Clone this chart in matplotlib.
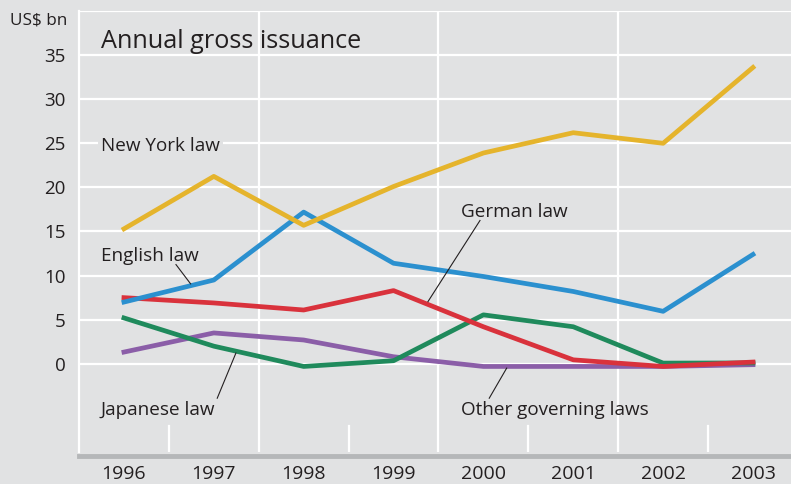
import matplotlib.pyplot as plt

plt.rcParams['font.family'] = ['Open Sans', 'DejaVu Sans']

years = [1996, 1997, 1998, 1999, 2000, 2001, 2002, 2003]
new_york = [15.3, 21.25, 15.7, 20.1, 23.9, 26.2, 25.0, 33.6]
english = [7.0, 9.5, 17.2, 11.4, 9.9, 8.2, 5.95, 12.4]
german = [7.5, 6.9, 6.1, 8.3, 4.2, 0.45, -0.3, 0.2]
japanese = [5.2, 2.0, -0.3, 0.35, 5.55, 4.2, 0.08, 0.1]
other = [1.33, 3.5, 2.7, 0.8, -0.3, -0.3, -0.3, -0.1]
y_ticks = [0, 5, 10, 15, 20, 25, 30, 35]

bg = '#e1e2e3'
ink = '#231f20'

fig = plt.figure(figsize=(7.91, 4.84), dpi=100, facecolor=bg)
ax = fig.add_axes([0.0999, 0.0661, 0.9001, 0.9112], facecolor=bg)

ax.set_xlim(1995.5, 2003.423)
ax.set_ylim(-10, 40)

# white grid: horizontal rules plus the top rule at 40
for v in y_ticks + [40]:
    ax.axhline(v, color='white', lw=1.6, zorder=1)
for x in [1997.5, 1999.5, 2001.5]:
    ax.axvline(x, color='white', lw=1.6, zorder=1)
for x in [1996.5, 1998.5, 2000.5, 2002.5]:
    ax.plot([x, x], [-10, -7.05], color='white', lw=1.6, zorder=1)

lw = 3.4
ax.plot(years, other, color='#8b5ea8', lw=lw, zorder=3)
ax.plot(years, japanese, color='#1f8a5c', lw=lw, zorder=4)
ax.plot(years, german, color='#d9323c', lw=lw, zorder=5)
ax.plot(years, english, color='#2b90cf', lw=lw, zorder=6)
ax.plot(years, new_york, color='#e5b42c', lw=lw, zorder=7)

ax.set_yticks(y_ticks)
ax.set_xticks(years)
ax.tick_params(axis='y', length=0, pad=9.5, labelsize=13.5, labelcolor=ink)
ax.tick_params(axis='x', length=0, pad=6, labelsize=14, labelcolor=ink)

for side in ['top', 'right']:
    ax.spines[side].set_visible(False)
ax.spines['left'].set_color('white')
ax.spines['left'].set_linewidth(1.6)
ax.spines['bottom'].set_color('#b5b7b9')
ax.spines['bottom'].set_linewidth(3.5)
ax.spines['bottom'].set_position(('outward', 3))

ax.text(1995.744, 35.76, 'Annual gross issuance', fontsize=18.2, color=ink,
        va='baseline', ha='left', zorder=8)
fig.text(0.0126, 0.9504, 'US$ bn', fontsize=12.3, color=ink,
         va='baseline', ha='left')

lab = dict(fontsize=13.6, color=ink, va='baseline', ha='left', zorder=8)
ax.text(1995.744, 24.13, 'New York law',
        bbox=dict(facecolor=bg, edgecolor='none', pad=2), **lab)
ax.text(1995.744, 11.63, 'English law', **lab)
ax.text(1999.75, 16.67, 'German law', **lab)
ax.text(1995.744, -5.8, 'Japanese law', **lab)
ax.text(1999.75, -5.8, 'Other governing laws', **lab)

# leader lines from labels to their series
leaders = [((1996.579, 11.25), (1996.742, 9.06)),
           ((1999.962, 16.25), (1999.383, 7.05)),
           ((1997.038, -3.9), (1997.246, 1.22)),
           ((2000.065, -3.9), (2000.259, -0.49))]
for (x0, y0), (x1, y1) in leaders:
    ax.plot([x0, x1], [y0, y1], color=ink, lw=0.8, zorder=8)

fig.savefig('out.png', dpi=100, facecolor=bg)
